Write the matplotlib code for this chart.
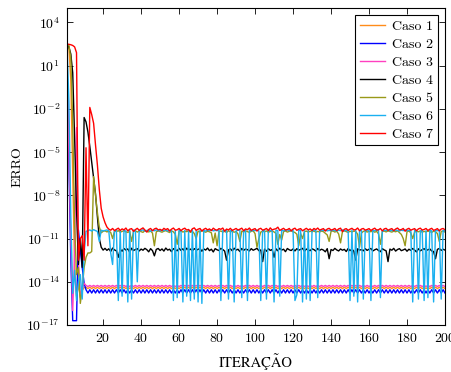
import numpy as np
import matplotlib
matplotlib.use("Agg")
import matplotlib.pyplot as plt
from matplotlib.ticker import LogFormatterMathtext, NullLocator

plt.rcParams['font.family'] = ['cmr10', 'DejaVu Serif']
plt.rcParams['mathtext.fontset'] = 'cm'
plt.rcParams['axes.formatter.use_mathtext'] = True

# error per iteration, stored as log10 exponents
iteracao = np.arange(1, 201)

caso1 = [
    2.40, 2.20, 0.00, -6.50, -13.00, -15.00, -14.20, -15.10, -14.60, -14.40,
] + [
    -14.38, -14.47, -14.38, -14.47, -14.38, -14.47, -14.38, -14.47, -14.38, -14.47,
    -14.38, -14.47, -14.38, -14.47, -14.38, -14.47, -14.38, -14.47, -14.38, -14.47,
    -14.38, -14.47, -14.38, -14.47, -14.38, -14.47, -14.38, -14.47, -14.38, -14.47,
    -14.38, -14.47, -14.38, -14.47, -14.38, -14.47, -14.38, -14.47, -14.38, -14.47,
    -14.38, -14.47, -14.38, -14.47, -14.38, -14.47, -14.38, -14.47, -14.38, -14.47,
    -14.38, -14.47, -14.38, -14.47, -14.38, -14.47, -14.38, -14.47, -14.38, -14.47,
    -14.38, -14.47, -14.38, -14.47, -14.38, -14.47, -14.38, -14.47, -14.38, -14.47,
    -14.38, -14.47, -14.38, -14.47, -14.38, -14.47, -14.38, -14.47, -14.38, -14.47,
    -14.38, -14.47, -14.38, -14.47, -14.38, -14.47, -14.38, -14.47, -14.38, -14.47,
    -14.38, -14.47, -14.38, -14.47, -14.38, -14.47, -14.38, -14.47, -14.38, -14.47,
    -14.38, -14.47, -14.38, -14.47, -14.38, -14.47, -14.38, -14.47, -14.38, -14.47,
    -14.38, -14.47, -14.38, -14.47, -14.38, -14.47, -14.38, -14.47, -14.38, -14.47,
    -14.38, -14.47, -14.38, -14.47, -14.38, -14.47, -14.38, -14.47, -14.38, -14.47,
    -14.38, -14.47, -14.38, -14.47, -14.38, -14.47, -14.38, -14.47, -14.38, -14.47,
    -14.38, -14.47, -14.38, -14.47, -14.38, -14.47, -14.38, -14.47, -14.38, -14.47,
    -14.38, -14.47, -14.38, -14.47, -14.38, -14.47, -14.38, -14.47, -14.38, -14.47,
    -14.38, -14.47, -14.38, -14.47, -14.38, -14.47, -14.38, -14.47, -14.38, -14.47,
    -14.38, -14.47, -14.38, -14.47, -14.38, -14.47, -14.38, -14.47, -14.38, -14.47,
    -14.38, -14.47, -14.38, -14.47, -14.38, -14.47, -14.38, -14.47, -14.38, -14.47,
]

caso2 = [
    0.80, -6.00, -12.50, -16.70, -16.70, -16.70, -10.40, -11.80, -13.00, -14.10,
] + [
    -14.55, -14.78, -14.55, -14.78, -14.55, -14.78, -14.55, -14.78, -14.55, -14.78,
    -14.55, -14.78, -14.55, -14.78, -14.55, -14.78, -14.55, -14.78, -14.55, -14.78,
    -14.55, -14.78, -14.55, -14.78, -14.55, -14.78, -14.55, -14.78, -14.55, -14.78,
    -14.55, -14.78, -14.55, -14.78, -14.55, -14.78, -14.55, -14.78, -14.55, -14.78,
    -14.55, -14.78, -14.55, -14.78, -14.55, -14.78, -14.55, -14.78, -14.55, -14.78,
    -14.55, -14.78, -14.55, -14.78, -14.55, -14.78, -14.55, -14.78, -14.55, -14.78,
    -14.55, -14.78, -14.55, -14.78, -14.55, -14.78, -14.55, -14.78, -14.55, -14.78,
    -14.55, -14.78, -14.55, -14.78, -14.55, -14.78, -14.55, -14.78, -14.55, -14.78,
    -14.55, -14.78, -14.55, -14.78, -14.55, -14.78, -14.55, -14.78, -14.55, -14.78,
    -14.55, -14.78, -14.55, -14.78, -14.55, -14.78, -14.55, -14.78, -14.55, -14.78,
    -14.55, -14.78, -14.55, -14.78, -14.55, -14.78, -14.55, -14.78, -14.55, -14.78,
    -14.55, -14.78, -14.55, -14.78, -14.55, -14.78, -14.55, -14.78, -14.55, -14.78,
    -14.55, -14.78, -14.55, -14.78, -14.55, -14.78, -14.55, -14.78, -14.55, -14.78,
    -14.55, -14.78, -14.55, -14.78, -14.55, -14.78, -14.55, -14.78, -14.55, -14.78,
    -14.55, -14.78, -14.55, -14.78, -14.55, -14.78, -14.55, -14.78, -14.55, -14.78,
    -14.55, -14.78, -14.55, -14.78, -14.55, -14.78, -14.55, -14.78, -14.55, -14.78,
    -14.55, -14.78, -14.55, -14.78, -14.55, -14.78, -14.55, -14.78, -14.55, -14.78,
    -14.55, -14.78, -14.55, -14.78, -14.55, -14.78, -14.55, -14.78, -14.55, -14.78,
    -14.55, -14.78, -14.55, -14.78, -14.55, -14.78, -14.55, -14.78, -14.55, -14.78,
]

caso3 = [
    0.90, -5.00, -11.00, -16.00, -12.00, -3.30, -12.50, -15.00, -14.50, -14.10,
] + [
    -14.25, -14.33, -14.25, -14.33, -14.25, -14.33, -14.25, -14.33, -14.25, -14.33,
    -14.25, -14.33, -14.25, -14.33, -14.25, -14.33, -14.25, -14.33, -14.25, -14.33,
    -14.25, -14.33, -14.25, -14.33, -14.25, -14.33, -14.25, -14.33, -14.25, -14.33,
    -14.25, -14.33, -14.25, -14.33, -14.25, -14.33, -14.25, -14.33, -14.25, -14.33,
    -14.25, -14.33, -14.25, -14.33, -14.25, -14.33, -14.25, -14.33, -14.25, -14.33,
    -14.25, -14.33, -14.25, -14.33, -14.25, -14.33, -14.25, -14.33, -14.25, -14.33,
    -14.25, -14.33, -14.25, -14.33, -14.25, -14.33, -14.25, -14.33, -14.25, -14.33,
    -14.25, -14.33, -14.25, -14.33, -14.25, -14.33, -14.25, -14.33, -14.25, -14.33,
    -14.25, -14.33, -14.25, -14.33, -14.25, -14.33, -14.25, -14.33, -14.25, -14.33,
    -14.25, -14.33, -14.25, -14.33, -14.25, -14.33, -14.25, -14.33, -14.25, -14.33,
    -14.25, -14.33, -14.25, -14.33, -14.25, -14.33, -14.25, -14.33, -14.25, -14.33,
    -14.25, -14.33, -14.25, -14.33, -14.25, -14.33, -14.25, -14.33, -14.25, -14.33,
    -14.25, -14.33, -14.25, -14.33, -14.25, -14.33, -14.25, -14.33, -14.25, -14.33,
    -14.25, -14.33, -14.25, -14.33, -14.25, -14.33, -14.25, -14.33, -14.25, -14.33,
    -14.25, -14.33, -14.25, -14.33, -14.25, -14.33, -14.25, -14.33, -14.25, -14.33,
    -14.25, -14.33, -14.25, -14.33, -14.25, -14.33, -14.25, -14.33, -14.25, -14.33,
    -14.25, -14.33, -14.25, -14.33, -14.25, -14.33, -14.25, -14.33, -14.25, -14.33,
    -14.25, -14.33, -14.25, -14.33, -14.25, -14.33, -14.25, -14.33, -14.25, -14.33,
    -14.25, -14.33, -14.25, -14.33, -14.25, -14.33, -14.25, -14.33, -14.25, -14.33,
]

caso4 = [
    2.50, 2.30, 1.80, 0.50, -4.00, -9.00, -12.80, -11.00, -13.00, -2.60,
    -2.90, -3.60, -4.60, -5.70, -6.80, -7.90, -9.50, -11.00, -11.60, -11.80,
    -11.68, -11.82, -11.71, -11.90, -11.66, -11.79, -11.85, -12.30, -11.74, -11.88,
    -11.69, -11.80, -11.72, -11.95, -11.67, -11.83, -11.76, -11.70, -11.86, -11.73,
    -11.81, -11.68, -11.77, -11.92, -11.70, -11.84, -12.20, -11.75, -11.69, -11.83,
    -11.72, -11.87, -11.66, -11.80, -11.74, -11.91, -11.70, -11.78, -11.85, -11.68,
    -11.82, -11.71, -11.89, -11.67, -11.79, -11.73, -11.86, -11.70, -11.81, -11.75,
    -11.69, -11.88, -11.72, -11.80, -11.66, -11.84, -11.74, -11.93, -11.70, -11.78,
    -11.83, -11.68, -11.76, -11.87, -12.50, -11.79, -11.71, -11.85, -11.67, -11.80,
    -11.74, -11.90, -11.69, -11.82, -11.72, -11.77, -11.86, -11.70, -11.81, -11.75,
    -11.68, -11.84, -11.79, -12.60, -11.73, -11.88, -11.70, -11.82, -11.76, -12.30,
    -11.71, -11.85, -11.67, -11.80, -11.74, -11.91, -11.69, -11.78, -11.83, -11.72,
    -11.86, -11.70, -11.81, -11.75, -11.68, -11.89, -11.73, -11.79, -11.84, -11.71,
    -11.77, -11.87, -11.69, -11.82, -11.74, -11.80, -11.92, -11.70, -12.40, -11.76,
    -11.83, -11.68, -11.79, -11.86, -11.72, -11.81, -11.75, -11.90, -11.69, -11.84,
    -11.73, -11.88, -12.50, -11.71, -11.80, -11.77, -11.85, -11.70, -11.82, -11.74,
    -11.69, -11.86, -11.78, -11.72, -11.83, -11.91, -11.70, -11.79, -11.85, -12.60,
    -11.73, -11.81, -11.68, -11.87, -11.76, -11.70, -11.84, -11.79, -11.72, -11.88,
    -11.74, -11.82, -11.69, -11.80, -11.93, -11.71, -11.85, -11.77, -11.70, -11.83,
    -11.78, -11.72, -11.86, -11.90, -12.40, -11.75, -11.69, -11.82, -11.74, -11.80,
]

caso5 = [
    2.50, 2.40, 1.50, -3.00, -10.00, -13.50, -13.00, -15.50, -14.50, -13.00,
    -12.30, -12.00, -12.00, -11.90, -6.70, -8.00, -9.20, -10.20, -10.60, -10.50,
    -10.46, -10.54, -10.49, -10.57, -11.00, -10.48, -10.52, -10.45, -10.56, -10.50,
    -10.47, -10.53, -10.58, -10.49, -11.20, -10.51, -10.46, -10.55, -10.48, -10.52,
    -10.57, -10.45, -10.50, -10.54, -10.48, -10.62, -11.50, -10.53, -10.47, -10.51,
    -10.56, -10.49, -10.45, -10.52, -10.58, -10.47, -10.53, -10.70, -11.40, -10.50,
    -10.46, -10.55, -10.49, -10.52, -10.47, -10.57, -10.50, -10.65, -11.00, -10.48,
    -10.54, -10.46, -10.51, -10.56, -10.49, -10.53, -10.60, -11.30, -10.62, -11.50,
    -10.52, -10.47, -10.55, -10.50, -10.58, -10.46, -10.53, -10.49, -10.56, -10.51,
    -10.68, -11.20, -10.48, -10.54, -10.47, -10.52, -10.57, -10.50, -10.46, -10.66,
    -11.60, -11.00, -10.55, -10.49, -10.53, -10.47, -10.56, -10.51, -10.48, -10.54,
    -10.64, -11.40, -10.72, -11.10, -10.52, -10.47, -10.55, -10.50, -10.46, -10.53,
    -10.58, -10.70, -11.50, -10.66, -11.00, -10.51, -10.48, -10.55, -10.49, -10.53,
    -10.47, -10.56, -10.50, -10.54, -10.48, -10.52, -10.63, -10.75, -11.20, -10.51,
    -10.47, -10.55, -10.49, -10.68, -11.30, -10.53, -10.46, -10.52, -10.57, -10.49,
    -10.54, -10.48, -10.51, -10.70, -11.60, -10.62, -10.50, -10.47, -10.55, -10.49,
    -10.53, -10.46, -10.56, -10.50, -10.67, -11.40, -10.52, -10.48, -10.54, -10.47,
    -10.51, -10.55, -10.49, -10.53, -10.46, -10.58, -10.71, -11.00, -11.50, -10.52,
    -10.48, -10.60, -11.00, -10.55, -10.49, -10.53, -10.47, -10.56, -10.50, -10.54,
    -10.48, -10.52, -10.57, -10.49, -10.53, -10.65, -11.20, -10.51, -10.47, -10.55,
]

caso6 = [
    2.40, -1.50, -9.50, -14.80, -13.20, -15.30, -14.00, -13.50, -15.20, -12.00,
    -10.50, -10.45, -10.40, -10.48, -10.38, -10.45, -10.50, -11.20, -10.42, -10.47,
    -10.44, -10.40, -10.47, -12.00, -12.80, -10.45, -10.41, -15.30, -10.46, -15.00,
    -10.43, -10.48, -15.40, -10.44, -15.20, -10.40, -10.47, -14.00, -10.43, -10.45,
    -10.39, -10.48, -10.44, -10.41, -10.50, -10.43, -10.46, -10.40, -10.44, -10.47,
    -10.42, -10.45, -10.39, -10.48, -10.43, -10.46, -15.30, -10.44, -15.10, -10.41,
    -10.47, -15.40, -10.43, -15.00, -10.45, -15.30, -10.40, -15.20, -10.46, -15.40,
    -10.42, -15.50, -10.44, -10.48, -10.41, -10.45, -10.39, -10.47, -10.43, -10.46,
    -10.40, -15.30, -10.44, -10.48, -10.42, -15.20, -10.45, -10.41, -15.40, -10.47,
    -10.43, -10.39, -15.10, -10.46, -10.44, -15.30, -10.40, -10.48, -10.42, -10.45,
    -10.41, -10.47, -15.30, -10.43, -10.46, -15.20, -10.40, -10.44, -10.48, -15.40,
    -10.42, -10.45, -15.00, -10.41, -10.47, -10.43, -10.39, -10.46, -10.44, -10.40,
    -15.30, -14.90, -10.45, -10.42, -15.40, -10.47, -15.20, -10.43, -15.30, -10.46,
    -10.41, -10.44, -15.10, -10.48, -10.42, -10.45, -10.40, -10.47, -10.43, -10.46,
    -10.41, -10.44, -10.48, -10.42, -10.45, -10.39, -10.47, -10.43, -10.46, -15.30,
    -10.41, -15.00, -10.44, -15.40, -10.48, -10.42, -15.20, -10.45, -10.40, -10.47,
    -15.30, -10.43, -10.46, -10.41, -10.44, -15.10, -10.48, -10.42, -10.45, -10.40,
    -10.47, -10.43, -10.46, -10.41, -10.44, -10.48, -10.42, -10.45, -10.39, -10.47,
    -10.43, -10.46, -15.40, -10.40, -10.44, -15.20, -10.48, -10.42, -15.30, -10.45,
    -15.10, -10.41, -10.47, -15.40, -10.43, -10.46, -10.40, -15.20, -10.44, -10.48,
]

caso7 = [
    2.50, 2.48, 2.45, 2.40, 2.30, 1.90, -12.50, -11.00, -10.80, -12.50,
    -4.70, -11.50, -1.90, -2.40, -3.00, -4.50, -5.90, -7.60, -8.90, -9.50,
    -9.90, -10.20, -10.35, -10.42, -10.30, -10.45, -10.36, -10.28, -10.44, -10.33,
    -10.40, -10.27, -10.47, -10.35, -10.31, -10.50, -10.38, -10.29, -10.43, -10.34,
    -10.26, -10.41, -10.55, -10.37, -10.30, -10.46, -10.33, -10.28, -10.40, -10.36,
    -10.44, -10.29, -10.38, -10.31, -10.48, -10.35, -10.27, -10.42, -10.39, -10.30,
    -10.45, -10.34, -10.28, -10.41, -10.37, -10.52, -10.32, -10.26, -10.43, -10.35,
    -10.30, -10.47, -10.36, -10.29, -10.40, -10.33, -10.45, -10.28, -10.38, -10.42,
    -10.31, -10.36, -10.27, -10.49, -10.34, -10.40, -10.29, -10.44, -10.37, -10.30,
    -10.41, -10.35, -10.28, -10.46, -10.33, -10.39, -10.27, -10.43, -10.36, -10.31,
    -10.48, -10.34, -10.29, -10.42, -10.37, -10.30, -10.45, -10.26, -10.40, -10.35,
    -10.32, -10.21, -10.44, -10.36, -10.29, -10.41, -10.38, -10.30, -10.47, -10.34,
    -10.28, -10.43, -10.35, -10.31, -10.46, -10.37, -10.29, -10.40, -10.33, -10.44,
    -10.30, -10.38, -10.27, -10.42, -10.36, -10.31, -10.48, -10.34, -10.29, -10.41,
    -10.37, -10.30, -10.45, -10.33, -10.28, -10.52, -10.36, -10.31, -10.43, -10.35,
    -10.29, -10.40, -10.38, -10.27, -10.46, -10.34, -10.30, -10.42, -10.37, -10.31,
    -10.44, -10.35, -10.28, -10.41, -10.39, -10.30, -10.47, -10.33, -10.29, -10.43,
    -10.36, -10.31, -10.45, -10.34, -10.27, -10.40, -10.38, -10.30, -10.49, -10.35,
    -10.29, -10.42, -10.36, -10.31, -10.46, -10.33, -10.28, -10.41, -10.37, -10.30,
    -10.44, -10.35, -10.29, -10.43, -10.38, -10.31, -10.47, -10.34, -10.30, -10.40,
]

series = [caso1, caso2, caso3, caso4, caso5, caso6, caso7]
labels = ["Caso 1", "Caso 2", "Caso 3", "Caso 4", "Caso 5", "Caso 6", "Caso 7"]
colors = ["#ff8c1a", "#0000ff", "#ff40c0", "#000000", "#999919", "#1ab0f0", "#ff0000"]

fig = plt.figure(figsize=(4.51, 3.72), dpi=100)
ax = fig.add_axes([0.1486, 0.1263, 0.8381, 0.8522])

for s, lab, c in zip(series, labels, colors):
    ax.plot(iteracao, 10.0 ** np.array(s), color=c, linewidth=1.0, label=lab)

ax.set_yscale('log')
ax.set_xlim(1, 200)
ax.set_ylim(1e-17, 1e5)
ax.set_xticks(np.arange(20, 201, 20))
ax.set_yticks([10.0 ** e for e in range(-17, 5, 3)])
ax.yaxis.set_major_formatter(LogFormatterMathtext())
ax.yaxis.set_minor_locator(NullLocator())
ax.tick_params(direction='in', top=True, right=True, length=4, width=0.6,
               labelsize=10, pad=5)
for sp in ax.spines.values():
    sp.set_linewidth(0.8)

# cmr10 has no Ç/Ã, so the x label uses STIX
ax.set_xlabel("ITERAÇÃO", fontsize=10.5, labelpad=6, family='STIXGeneral')
ax.set_ylabel("ERRO", fontsize=10, labelpad=2)

leg = ax.legend(loc='upper right', fontsize=10, fancybox=False, edgecolor='black',
                framealpha=1.0, borderpad=0.35, labelspacing=0.38,
                handlelength=1.8, handletextpad=0.5, borderaxespad=0.5)
leg.get_frame().set_linewidth(0.8)

fig.savefig("out.png", dpi=100)
